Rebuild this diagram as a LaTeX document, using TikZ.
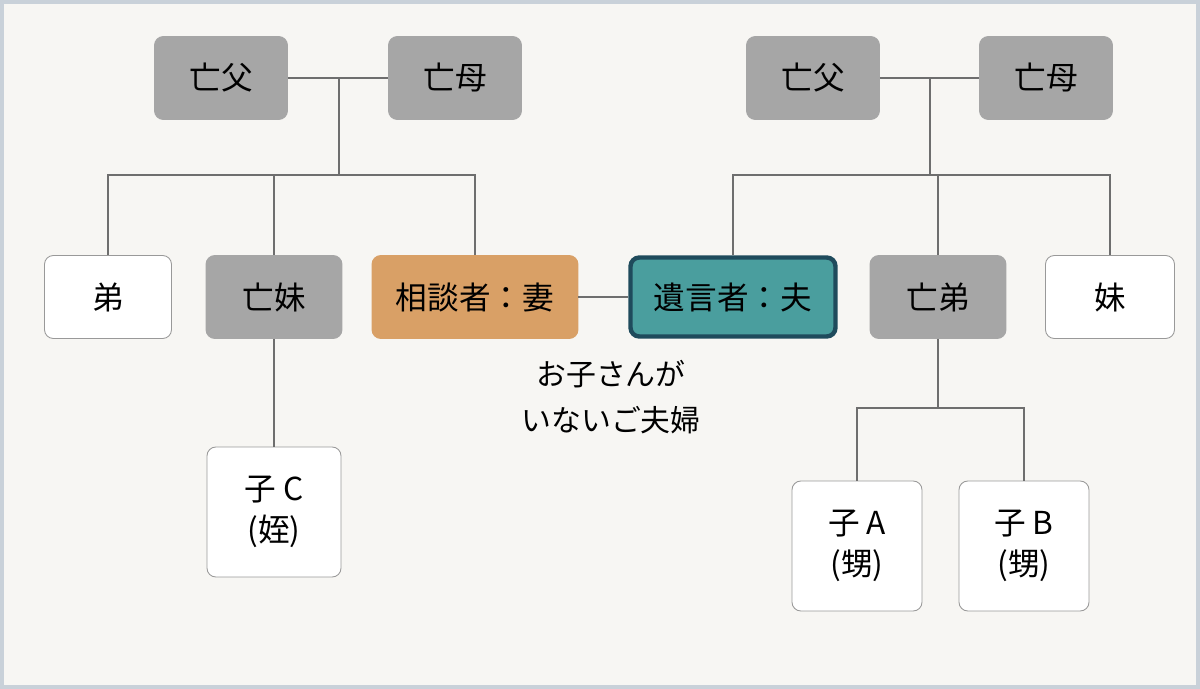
\documentclass[tikz,border=0pt]{standalone}
\usepackage{fontspec}
\setmainfont{Noto Sans CJK JP}
\usetikzlibrary{positioning}
\definecolor{bgc}{HTML}{F7F6F3}
\definecolor{framec}{HTML}{C9D1D9}
\definecolor{deadc}{HTML}{A6A6A6}
\definecolor{wifec}{HTML}{D9A066}
\definecolor{husbc}{HTML}{4A9E9E}
\definecolor{husbd}{HTML}{1F4B5C}
\definecolor{linec}{HTML}{6E6E6E}
\tikzset{
  box/.style={draw=deadc!80!black, line width=0.5pt, rounded corners=5pt, minimum height=1.66cm, inner sep=0pt, align=center, font=\fontsize{18}{23}\selectfont},
  dead/.style={box, fill=deadc, draw=deadc, minimum width=2.66cm},
  alive/.style={box, fill=white, draw=gray!80, minimum width=2.56cm},
  kid/.style={box, fill=white, draw=gray!80, minimum width=2.6cm, minimum height=2.6cm},
  tie/.style={draw=linec, line width=1pt}
}
\begin{document}
\begin{tikzpicture}[x=0.02cm,y=-0.02cm]
\fill[framec] (0,0) rectangle (1200,689);
\fill[bgc] (4,4) rectangle (1196,685);
\useasboundingbox (0,0) rectangle (1200,689);

% parents
\node[dead] (fL) at (221,78) {亡父};
\node[dead] (mL) at (455,78) {亡母};
\node[dead] (fR) at (813,78) {亡父};
\node[dead] (mR) at (1046,78) {亡母};

% siblings and couple
\node[alive, minimum width=2.54cm] (bro) at (108,297) {弟};
\node[dead, minimum width=2.72cm] (sis) at (274,297) {亡妹};
\node[box, fill=wifec, draw=wifec, minimum width=4.12cm] (wife) at (475,297) {相談者：妻};
\node[box, fill=husbc, draw=husbd, line width=2.5pt, minimum width=4.1cm, minimum height=1.58cm] (husb) at (733,297) {遺言者：夫};
\node[dead, minimum width=2.72cm] (dbro) at (938,297) {亡弟};
\node[alive, minimum width=2.58cm] (sis2) at (1110,297) {妹};

% nieces and nephews
\node[kid, minimum width=2.68cm] (kC) at (274,512) {子 C\\(姪)};
\node[kid] (kA) at (857,546) {子 A\\(甥)};
\node[kid] (kB) at (1024,546) {子 B\\(甥)};

\node[align=center, font=\fontsize{17}{26}\selectfont] (note) at (611,397) {お子さんが\\いないご夫婦};

% left family
\coordinate (jL) at (339,78);
\coordinate (hL) at (339,175);
\draw[tie] (fL) -- (mL);
\draw[tie] (jL) -- (hL);
\draw[tie] (bro.north) |- (hL) -| (wife.north);
\draw[tie] (sis.north) -- (sis.north |- hL);
\draw[tie] (sis) -- (kC);

% right family
\coordinate (jR) at (930,78);
\coordinate (hR) at (930,175);
\draw[tie] (fR) -- (mR);
\draw[tie] (jR) -- (hR);
\draw[tie] (husb.north) |- (hR) -| (sis2.north);
\draw[tie] (dbro.north) -- (dbro.north |- hR);
\coordinate (jK) at (938,408);
\draw[tie] (dbro) -- (jK);
\draw[tie] (kA.north) |- (jK) -| (kB.north);

% couple
\draw[tie] (wife) -- (husb);
\end{tikzpicture}
\end{document}
